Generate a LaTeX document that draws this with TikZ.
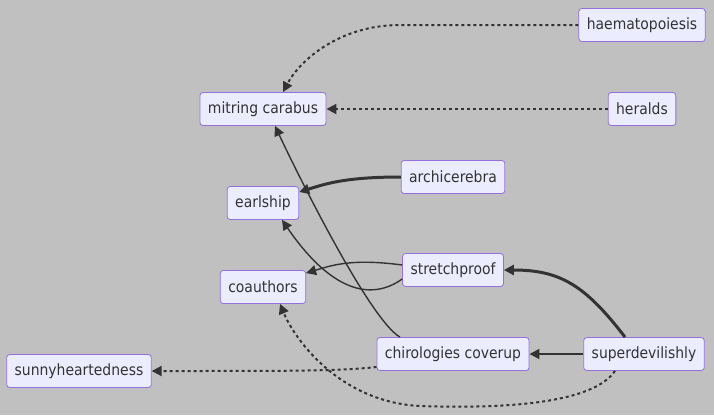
\documentclass[tikz,border=0pt]{standalone}
\usepackage{fontspec}
\setmainfont{DejaVu Sans Condensed}
\usetikzlibrary{arrows.meta,positioning}
\definecolor{canvas}{RGB}{192,192,192}
\definecolor{boxfill}{HTML}{ECECFF}
\definecolor{boxline}{HTML}{9370DB}
\definecolor{ink}{HTML}{333333}

\begin{document}
\begin{tikzpicture}[
    x=1pt, y=-1pt,
    font=\fontsize{15.5}{18}\selectfont,
    box/.style={draw=boxline, fill=boxfill, rounded corners=3pt, line width=0.8pt,
                minimum height=33pt, inner xsep=8pt, text=ink},
    link/.style={-{Triangle[length=10pt,width=10pt]}, line width=1.4pt, ink},
    heavy/.style={link, line width=3pt},
    medium/.style={link, line width=2pt},
    dotlink/.style={link, line width=2pt, dash pattern=on 3pt off 3pt}
]
\fill[canvas] (0,0) rectangle (714,415);
\useasboundingbox (0,0) rectangle (714,415);

\node[box] (haem) at (642,25) {haematopoiesis};
\node[box] (mitring) at (263,109) {mitring carabus};
\node[box] (heralds) at (642,109) {heralds};
\node[box] (arch) at (453,177) {archicerebra};
\node[box] (earlship) at (263,203) {earlship};
\node[box] (stretch) at (453,270) {stretchproof};
\node[box] (coauthors) at (263,287) {coauthors};
\node[box] (chir) at (453,354) {chirologies coverup};
\node[box] (superdev) at (644,354) {superdevilishly};
\node[box] (sunny) at (79,371) {sunnyheartedness};

\draw[dotlink] (haem.west) -- (400,25) .. controls (340,25) and (300,60)
    .. ([xshift=20pt]mitring.north);
\draw[dotlink] (heralds) -- (mitring);
\draw[heavy] (arch.west) .. controls (345,177) and (325,184)
    .. ([yshift=11pt]earlship.east);
\draw[link] ([xshift=-53pt]chir.north) .. controls (370,320) and (298,175)
    .. ([xshift=12pt]mitring.south);
\draw[link] ([yshift=-9pt]stretch.west) .. controls (370,302) and (330,290)
    .. ([xshift=19pt]earlship.south);
\draw[link] ([yshift=5pt]stretch.west) .. controls (350,258) and (330,266)
    .. ([yshift=14pt]coauthors.east);
\draw[heavy] ([xshift=-19pt]superdev.north) .. controls (585,285) and (560,270)
    .. (stretch.east);
\draw[medium] (superdev) -- (chir);
\draw[dotlink] ([yshift=-13pt]chir.west) .. controls (340,371) and (300,371)
    .. (sunny.east);
\draw[dotlink] ([xshift=-29pt]superdev.south) .. controls (590,408) and (480,408)
    .. (420,406) .. controls (340,402) and (295,340) .. ([xshift=17pt]coauthors.south);
\end{tikzpicture}
\end{document}
